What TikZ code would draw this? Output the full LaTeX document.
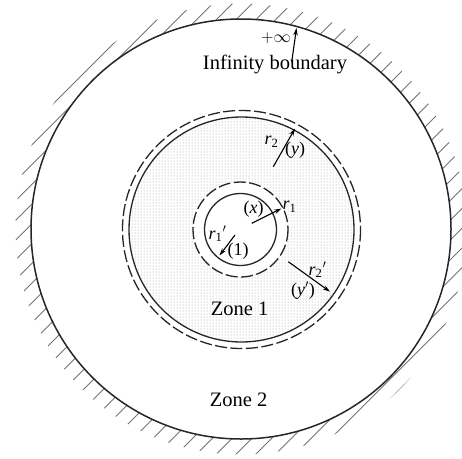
\documentclass[tikz,border=0pt]{standalone}
\usepackage{fontspec}
\setmainfont{Liberation Serif}
\usetikzlibrary{arrows.meta,patterns}
\newcommand\radlbl[1]{\textit{r}\textsubscript{#1}}
\begin{document}
\begin{tikzpicture}[x=1pt,y=-1pt,
  lbl/.style={inner sep=0pt, font=\fontsize{18}{19}\selectfont},
  big/.style={inner sep=0pt, font=\fontsize{20.5}{23}\selectfont},
  arr/.style={line width=1.1pt, -{Stealth[length=7.5pt,width=4.5pt]}},
  hatchline/.style={line width=0.8pt, black!55},
  solidc/.style={line width=1.3pt, black!85},
  dashc/.style={line width=1.3pt, black!85, dash pattern=on 12pt off 3.5pt},
  zonefill/.style={pattern=dots, pattern color=black!40}]
\useasboundingbox (0,0) rectangle (462,458);
\coordinate (O) at (241,229);
\coordinate (Z) at (241.5,229.5);
\coordinate (I) at (240.5,229.5);
% hatching outside the infinity boundary
\begin{scope}[even odd rule]
  \clip (O) circle[radius=225.5] (O) circle[radius=210];
  \foreach \k in {0,...,32} {
    \pgfmathsetmacro\c{157+19.75*\k}
    \draw[hatchline] (\c-460,460) -- (\c,0);
  }
\end{scope}
% zone 1 shading
\fill[zonefill, even odd rule] (Z) circle[radius=112.5] (I) circle[radius=47.5];
% circles
\draw[solidc, line width=1.5pt] (O) circle[radius=210];
\draw[solidc] (Z) circle[radius=112.5];
\draw[dashc] (Z) circle[radius=119];
\draw[solidc] (I) circle[radius=36];
\draw[dashc] (I) circle[radius=47.5];
% arrow end points
\coordinate (infS) at (291.7,62);
\coordinate (infT) at (296.5,28);
\coordinate (r1S) at (251.7,223.3);
\coordinate (r1T) at (281.5,208.5);
\coordinate (r1pS) at (235,235);
\coordinate (r1pT) at (219.5,255.5);
\coordinate (r2S) at (273.3,166.7);
\coordinate (r2T) at (295,128.5);
\coordinate (r2pS) at (288.3,261.7);
\coordinate (r2pT) at (330,291.7);
\draw[arr] (infS) -- (infT);
\draw[arr] (r1S) -- (r1T);
\draw[arr] (r1pS) -- (r1pT);
\draw[arr] (r2S) -- (r2T);
\draw[arr] (r2pS) -- (r2pT);
% labels
\node[lbl, font=\fontsize{17}{18}\selectfont] (inf) at (276,38) {$+\infty$};
\node[big] (ib) at (275,64) {Infinity boundary};
\node[big] (z1) at (239.5,309) {Zone 1};
\node[big] (z2) at (238.5,400) {Zone 2};
\node[lbl] (lr1) at (289.5,207) {\radlbl{1}};
\node[lbl] (lx) at (253.5,209) {(\textit{x})};
\node[lbl] (lr1p) at (217.5,234) {\radlbl{1}$'$};
\node[lbl] (l1) at (238,251.5) {(1)};
\node[lbl] (lr2) at (271.5,142) {\radlbl{2}};
\node[lbl] (ly) at (295,150.5) {(\textit{y})};
\node[lbl] (lr2p) at (317.5,270) {\radlbl{2}$'$};
\node[lbl] (lyp) at (303,290.5) {(\textit{y}$'$)};
\end{tikzpicture}
\end{document}
